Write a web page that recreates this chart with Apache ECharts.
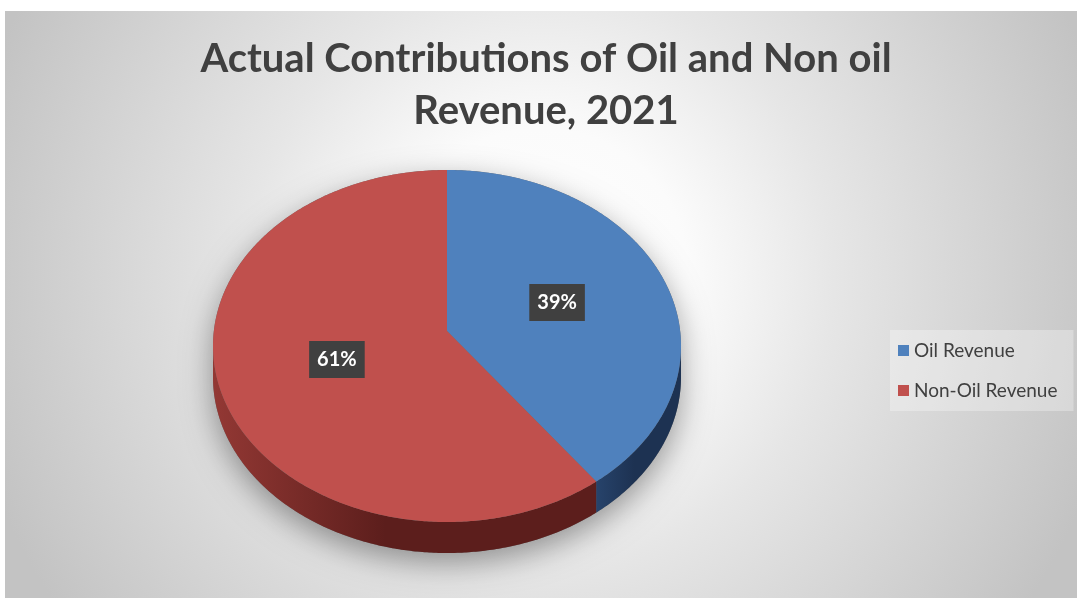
<!DOCTYPE html>
<html>
<head>
<meta charset="utf-8">
<script src="https://cdn.jsdelivr.net/npm/echarts@6/dist/echarts.min.js"></script>
<style>
  html, body { margin: 0; padding: 0; background: #ffffff; }
  #chart { width: 1077px; height: 599px; }
</style>
</head>
<body>
<div id="chart"></div>
<script>
// Revenue shares, 2021
const categories = ['Oil Revenue', 'Non-Oil Revenue'];
const shares = [39, 61];
const titleLines = ['Actual Contributions of Oil and Non oil', 'Revenue, 2021'];

// Face and wall colours of each slice
const topColors = ['#4f81bd', '#c0504d'];
const wallColors = [
  ['#27436b', '#1d3252'],
  ['#933834', '#5c1e1c']
];

const total = shares.reduce((a, b) => a + b, 0);

// Tilted (3-D look) pie geometry
const PIE = { cx: 447, cy: 346, rx: 234, ry: 176, apexY: 331, depth: 31 };

function rimPoint(theta, dy) {
  return [PIE.cx + PIE.rx * Math.sin(theta), PIE.cy - PIE.ry * Math.cos(theta) + (dy || 0)];
}
function arc(a0, a1, dy) {
  const n = Math.max(2, Math.ceil(Math.abs(a1 - a0) / 0.01));
  const pts = [];
  for (let k = 0; k <= n; k++) pts.push(rimPoint(a0 + (a1 - a0) * k / n, dy));
  return pts;
}

function makeRenderer(idx) {
  return function (params, api) {
    const value = api.value(0);
    let before = 0;
    for (let j = 0; j < idx; j++) before += shares[j];
    const a0 = before / total * Math.PI * 2;
    const a1 = (before + value) / total * Math.PI * 2;
    const children = [];

    // soft drop shadow under the whole disc
    if (idx === 0) {
      const outline = arc(-Math.PI / 2, Math.PI / 2, 0)
        .concat(arc(Math.PI / 2, Math.PI * 1.5, PIE.depth));
      children.push({
        type: 'polygon', z2: 0, silent: true,
        shape: { points: outline },
        style: {
          fill: '#6d6d6d',
          shadowBlur: 30, shadowOffsetY: 10,
          shadowColor: 'rgba(0,0,0,0.38)'
        }
      });
    }

    // outer wall: only the front half of the rim is visible
    const s = Math.max(a0, Math.PI / 2);
    const e = Math.min(a1, Math.PI * 1.5);
    if (e > s) {
      const wall = arc(s, e, 0).concat(arc(e, s, PIE.depth));
      children.push({
        type: 'polygon', z2: 1,
        shape: { points: wall },
        style: {
          fill: new echarts.graphic.LinearGradient(1, 0, 0, 0, [
            { offset: 0, color: wallColors[idx][1] },
            { offset: 0.55, color: wallColors[idx][1] },
            { offset: 1, color: wallColors[idx][0] }
          ])
        }
      });
    }

    // top face of the slice
    const face = [[PIE.cx, PIE.apexY]].concat(arc(a0, a1, 0));
    children.push({
      type: 'polygon', z2: 2,
      shape: { points: face },
      style: { fill: api.visual('color') }
    });

    // percentage label
    const mid = (a0 + a1) / 2;
    const lx = PIE.cx + 0.5 * PIE.rx * Math.sin(mid);
    const ly = PIE.apexY - 0.48 * PIE.ry * Math.cos(mid);
    children.push({
      type: 'text', z2: 5,
      style: {
        text: Math.round(value / total * 100) + '%',
        x: lx, y: ly,
        align: 'center', verticalAlign: 'middle',
        fill: '#ffffff',
        font: 'bold 20px Lato',
        backgroundColor: '#404040',
        padding: [9, 8, 8, 8],
        boxShadowBlur: 6, boxShadowOffsetX: 2, boxShadowOffsetY: 3,
        boxShadowColor: 'rgba(0,0,0,0.55)'
      }
    });

    return { type: 'group', children: children };
  };
}

const chart = echarts.init(document.getElementById('chart'));
chart.setOption({
  animation: false,
  graphic: [{
    type: 'rect', z: -10, silent: true,
    shape: { x: 5, y: 11, width: 1072, height: 587 },
    style: {
      fill: new echarts.graphic.RadialGradient(0.5, 0.45, 1.0, [
        { offset: 0, color: '#ffffff' },
        { offset: 0.25, color: '#fbfbfb' },
        { offset: 0.5, color: '#e6e6e6' },
        { offset: 1, color: '#c3c3c3' }
      ])
    }
  }],
  title: {
    text: titleLines.join('\n'),
    left: 546,
    top: 33,
    padding: 0,
    textAlign: 'center',
    textStyle: {
      fontFamily: 'Lato',
      fontWeight: 'bold',
      fontSize: 40,
      lineHeight: 52,
      color: '#404040'
    }
  },
  legend: {
    orient: 'vertical',
    left: 890,
    top: 330,
    icon: 'rect',
    itemWidth: 11,
    itemHeight: 11,
    itemGap: 21,
    padding: [11, 16, 11, 8],
    backgroundColor: 'rgba(255,255,255,0.3)',
    textStyle: { fontFamily: 'Lato', fontSize: 19, color: '#404040' },
    data: categories
  },
  series: categories.map((name, i) => ({
    type: 'custom',
    name: name,
    coordinateSystem: 'none',
    itemStyle: { color: topColors[i] },
    data: [[shares[i]]],
    renderItem: makeRenderer(i)
  }))
});
</script>
</body>
</html>
